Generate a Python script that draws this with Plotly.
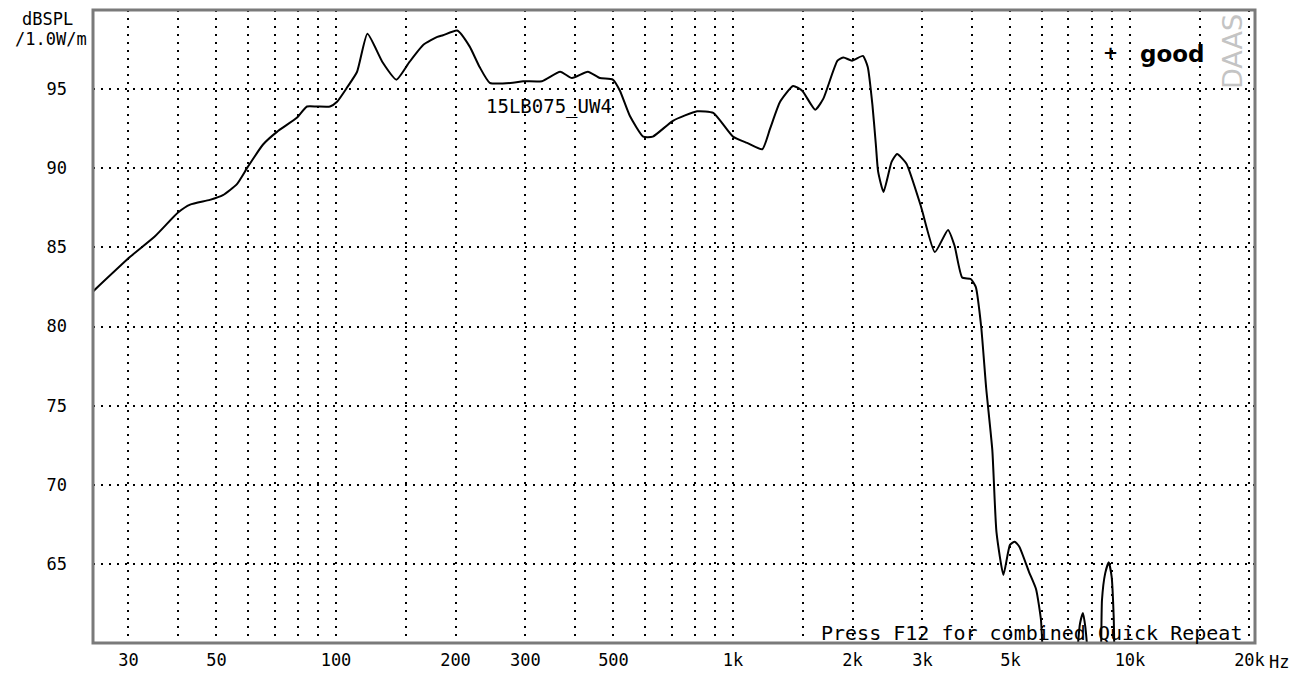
import plotly.graph_objects as go

# ---- data ----
freq_hz = [24.4, 30.3, 35, 40, 42.9, 48.1, 51.9, 56.3, 60, 65.5, 71, 79.8, 84.5, 89.5, 96.6,
           100.6, 106.6, 113, 120, 131, 142, 153, 166, 180, 186, 202, 217, 230, 244, 279,
           296, 330, 367, 393, 431, 462, 498, 519, 550, 594, 628, 706, 812, 892, 1000,
           1085, 1185, 1240, 1314, 1417, 1494, 1611, 1689, 1833, 1898, 1995, 2124, 2185,
           2245, 2290, 2320, 2394, 2509, 2590, 2733, 2974, 3225, 3480, 3615, 3778, 3970,
           4088, 4218, 4343, 4500, 4610, 4800, 4985, 5123, 5260, 5565, 5800, 5965, 6050,
           6500, 7200, 7350, 7480, 7613, 7720, 7850, 8100, 8440, 8500, 8660, 8840, 8990,
           9100, 9150, 9500]
spl_db = [82.2, 84.4, 85.7, 87.2, 87.7, 88.0, 88.3, 89.0, 90.1, 91.5, 92.3, 93.2, 93.9, 93.9, 93.9,
          94.2, 95.1, 96.1, 98.5, 96.7, 95.6, 96.7, 97.8, 98.3, 98.4, 98.7, 97.7, 96.4, 95.4, 95.4,
          95.5, 95.5, 96.1, 95.7, 96.1, 95.7, 95.6, 94.9, 93.3, 92.0, 92.0, 93.0, 93.6, 93.5, 92.0,
          91.6, 91.2, 92.5, 94.2, 95.2, 94.9, 93.7, 94.4, 96.8, 97.0, 96.8, 97.1, 96.4,
          94.0, 91.5, 89.8, 88.5, 90.4, 90.9, 90.3, 87.6, 84.7, 86.1, 85.1, 83.1, 83.0,
          82.5, 80.0, 76.1, 72.2, 67.0, 64.3, 66.2, 66.4, 66.1, 64.5, 63.4, 61.5, 59.0,
          55.0, 55.0, 59.0, 61.2, 61.9, 61.0, 59.0, 55.0, 59.0, 62.7, 64.4, 65.1, 64.2,
          61.6, 59.0, 55.0]

x_tick_vals = [30, 50, 100, 200, 300, 500, 1000, 2000, 3000, 5000, 10000, 20000]
x_tick_text = ["30", "50", "100", "200", "300", "500", "1k", "2k", "3k", "5k", "10k", "20k"]
x_minor_vals = [40, 60, 70, 80, 90, 150, 400, 600, 700, 800, 900, 1500, 4000, 6000,
                7000, 8000, 9000, 15000]
y_tick_vals = [65, 70, 75, 80, 85, 90, 95]
curve_name = "15LB075_UW4"

# ---- layout geometry (pixels) ----
W, H = 1308, 674
L, R, T, B = 93, 1255, 10, 643   # plot frame
PL = 67                           # left edge of the paper area (y labels sit just left of it)


def px(xp):
    return (xp - PL) / (R - PL)


def py(yp):
    return (B - yp) / (B - T)


MONO = "DejaVu Sans Mono"
GRID_DASH = "1.5px,6.5px"

fig = go.Figure()
fig.add_trace(go.Scatter(x=freq_hz, y=spl_db, mode="lines",
                         line=dict(color="black", width=2, shape="spline", smoothing=0.5),
                         name=curve_name, hoverinfo="x+y"))

fig.update_layout(
    width=W, height=H,
    margin=dict(l=PL, r=W - R, t=T, b=H - B, autoexpand=False),
    paper_bgcolor="white", plot_bgcolor="white",
    showlegend=False,
    font=dict(family=MONO, size=18, color="black"),
)

fig.update_xaxes(
    type="log", automargin=False,
    domain=[px(L), 1],
    range=[1.3879, 4.3149],
    tickmode="array", tickvals=x_tick_vals, ticktext=x_tick_text,
    ticks="", ticklabelstandoff=5,
    tickfont=dict(family=MONO, size=17, color="black"),
    showgrid=True, gridcolor="black", gridwidth=1.5, griddash=GRID_DASH,
    minor=dict(tickmode="array", tickvals=x_minor_vals, showgrid=True,
               gridcolor="black", gridwidth=1.5, griddash=GRID_DASH, ticks=""),
    showline=False, zeroline=False,
)
fig.update_yaxes(
    range=[60, 100], automargin=False,
    anchor="free", position=0,
    tickmode="array", tickvals=y_tick_vals,
    ticks="",
    tickfont=dict(family=MONO, size=17, color="black"),
    showgrid=True, gridcolor="black", gridwidth=1.5, griddash=GRID_DASH,
    showline=False, zeroline=False,
)

# frame
fig.add_shape(type="rect", xref="paper", yref="paper", x0=px(L), x1=1, y0=0, y1=1,
              line=dict(color="#7a7a7a", width=3), layer="above")


def note(text, x, y, xanchor="center", size=17, family=MONO, color="black", angle=0):
    return dict(text=text, x=px(x), y=py(y), xref="paper", yref="paper",
                xanchor=xanchor, yanchor="middle", showarrow=False, textangle=angle,
                font=dict(family=family, size=size, color=color))


ann = [
    note("dBSPL", 47, 19),
    note("/1.0W/m", 89, 39, xanchor="right"),
    note("Hz", 1267, 662, xanchor="left"),
    note(curve_name, 484, 107, xanchor="left", size=19),
    note("<b>+</b>", 1110, 53, size=18, family="DejaVu Sans"),
    note("<b>good</b>", 1138, 54, xanchor="left", size=23, family="DejaVu Sans"),
    note("DAAS", 1232, 52, size=27, family="DejaVu Sans", color="#c4c4c4", angle=-90),
    note("Press F12 for combined Quick Repeat", 1244, 633, xanchor="right", size=20),
]
fig.update_layout(annotations=ann)

fig.write_html("out.html", config={"displayModeBar": False},
               post_script="document.body.style.margin='0';")
